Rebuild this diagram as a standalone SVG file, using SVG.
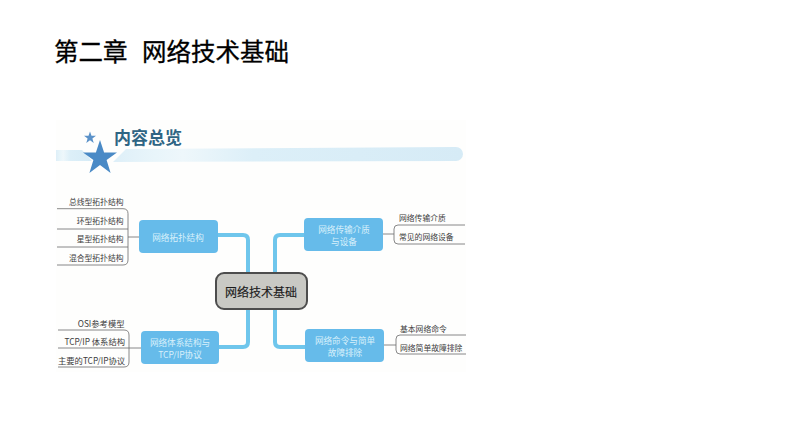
<svg xmlns="http://www.w3.org/2000/svg" width="794" height="447" viewBox="0 0 794 447">
<style>
text{font-family:"Noto Sans CJK SC","Liberation Sans",sans-serif}
.leaf{font-size:7.8px;fill:#3c3c3c;dominant-baseline:central}
.lat{font-size:8.300px}
.end{text-anchor:end}
.box{fill:#66bbea}
.boxt{font-size:8.6px;fill:#d8f0fa;text-anchor:middle;dominant-baseline:central}
.thick{fill:none;stroke:#6fc6ec;stroke-width:4}
.thin{fill:none;stroke:#6b6b6b;stroke-width:.8}
</style>
<defs>
<linearGradient id="band" x1="0" x2="1" y1="0" y2="0">
<stop offset="0" stop-color="#deeff8"/>
<stop offset=".12" stop-color="#e8f5fa"/>
<stop offset=".2" stop-color="#eef7fb"/>
<stop offset=".4" stop-color="#dceff8"/>
<stop offset="1" stop-color="#d6ebf6"/>
</linearGradient>
</defs>
<rect width="794" height="447" fill="#fff"/>
<text x="54" y="61" font-size="24.500" fill="#000" stroke="#000" stroke-width=".3">第二章</text>
<text x="142" y="61" font-size="24.500" fill="#000" stroke="#000" stroke-width=".3">网络技术基础</text>
<rect x="56" y="120" width="410" height="252" fill="#fefefd"/>
<g id="banner">
<path d="M56 150H82L92 161H56Z" fill="url(#band)"/>
<path d="M126 149L456 147a7 7 0 0 1 7 7a7 7 0 0 1-7 7L113 162Z" fill="url(#band)"/>
<polygon points="90,131.500 91.500,135.800 96,135.800 92.400,138.500 93.700,143 90,140.300 86.300,143 87.600,138.500 84,135.800 88.500,135.800" fill="#5b92c9"/>
<polygon points="100,140 104.100,152.500 117,152.500 106.600,160.100 110.600,173 100,165 89.400,173 93.400,160.100 83,152.500 95.900,152.500" fill="#4a8ac6"/>
<text x="114" y="144" font-size="17" font-weight="700" fill="#2f6584">内容总览</text>
</g>
<g id="connectors">
<path class="thick" d="M218 235H243Q248 235 248 240V273"/>
<path class="thick" d="M219 347H243Q248 347 248 342V309"/>
<path class="thick" d="M304 235H280Q275 235 275 240V272"/>
<path class="thick" d="M305 347H280Q275 347 275 342V308"/>
<path class="thin" d="M128 237H139"/>
<path class="thin" d="M129 348H141"/>
<path class="thin" d="M383 234H394"/>
<path class="thin" d="M384 345H396"/>
<path class="thin" d="M57 208.700H123Q128 208.700 128 213.700V260Q128 265 123 265H57M57 229H128M57 247H128"/>
<path class="thin" d="M58 330H124Q129 330 129 335V362Q129 367 124 367H58M58 348H129"/>
<path class="thin" d="M465 225H398Q394 225 394 229V240Q394 244 398 244H465"/>
<path class="thin" d="M466 335H400Q396 335 396 339V350Q396 354 400 354H466"/>
</g>
<g id="center">
<rect x="216" y="273" width="91" height="36" rx="8" fill="#c9c9c4" stroke="#4d4d4d" stroke-width="2"/>
<text x="261" y="291" font-size="12" fill="#1c1c1c" stroke="#1c1c1c" stroke-width=".15" text-anchor="middle" dominant-baseline="central">网络技术基础</text>
</g>
<g id="topology">
<rect class="box" x="139" y="220" width="79" height="33" rx="4"/>
<text class="boxt" x="178" y="237">网络拓扑结构</text>
<text class="leaf end" x="123.500" y="201.500">总线型拓扑结构</text>
<text class="leaf end" x="123.500" y="220">环型拓扑结构</text>
<text class="leaf end" x="123.500" y="238">星型拓扑结构</text>
<text class="leaf end" x="123.500" y="257">混合型拓扑结构</text>
</g>
<g id="architecture">
<rect class="box" x="141" y="331" width="78" height="33" rx="4"/>
<text class="boxt" x="180" y="342">网络体系结构与</text>
<text class="boxt" x="180" y="354">TCP/IP协议</text>
<text class="leaf end lat" x="124.500" y="323">OSI参考模型</text>
<text class="leaf end lat" x="125" y="341">TCP/IP 体系结构</text>
<text class="leaf end lat" x="125" y="360">主要的TCP/IP协议</text>
</g>
<g id="media">
<rect class="box" x="304" y="218" width="79" height="33" rx="4"/>
<text class="boxt" x="344" y="229">网络传输介质</text>
<text class="boxt" x="344" y="241">与设备</text>
<text class="leaf" x="399" y="217">网络传输介质</text>
<text class="leaf" x="399" y="236">常见的网络设备</text>
</g>
<g id="commands">
<rect class="box" x="305" y="329" width="79" height="33" rx="4"/>
<text class="boxt" x="345" y="340">网络命令与简单</text>
<text class="boxt" x="345" y="352">故障排除</text>
<text class="leaf" x="400" y="328">基本网络命令</text>
<text class="leaf" x="400" y="347">网络简单故障排除</text>
</g>
</svg>
